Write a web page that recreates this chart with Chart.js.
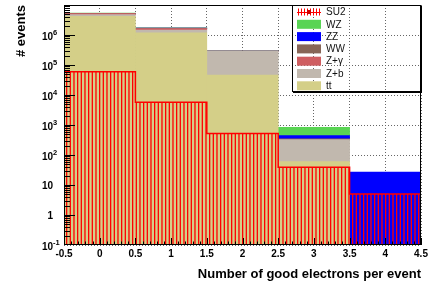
<!DOCTYPE html>
<html>
<head>
<meta charset="utf-8">
<script src="https://cdn.jsdelivr.net/npm/chart.js@4.4.0/dist/chart.umd.min.js"></script>
<style>
html, body { margin: 0; padding: 0; background: #fff; }
</style>
</head>
<body>
<canvas id="grafico" width="431" height="289"></canvas>
<script>
// bins (numero de eletrons bons por evento)
const categorias = [0, 1, 2, 3, 4];

// fundos empilhados (de baixo para cima)
const ttbar  = [4.2e6, 1.19e6, 4.6e4, 60, 0];
const zb     = [6.0e5, 2.8e5, 2.4e5, 265, 0];
const zgamma = [3.5e5, 1.8e5, 3.0e3, 0, 0];
const ww     = [1.0e5, 4.0e4, 2.0e3, 20, 0];
const zz     = [2.0e4, 1.0e4, 1.0e3, 95, 27];
const wz     = [1.0e5, 3.0e4, 2.0e3, 400, 0];

// sinal (desenhado por cima, hachurado)
const su2    = [6.0e4, 5.7e3, 5.2e2, 39, 5];

// rotulos do eixo y (base, expoente)
const ticksY   = [0.1, 1, 10, 100, 1e3, 1e4, 1e5, 1e6];
const rotulosY = [['10', '-1'], ['1', ''], ['10', ''], ['10', '2'], ['10', '3'], ['10', '4'], ['10', '5'], ['10', '6']];

const cores = {
    SU2: '#ff0000',
    WZ: '#59d454',
    ZZ: '#0000ff',
    WW: '#876657',
    'Z+γ': '#cf5e61',
    'Z+b': '#c1b8ae',
    tt: '#d4cf88'
};
const ordemLegenda = ['SU2', 'WZ', 'ZZ', 'WW', 'Z+γ', 'Z+b', 'tt'];

Chart.defaults.font.family = '"Liberation Sans", Arial, sans-serif';
Chart.defaults.color = '#000';

function hachuraVertical(cor) {
    const c = document.createElement('canvas');
    c.width = 11; c.height = 4;
    const g = c.getContext('2d');
    g.fillStyle = cor;
    [0, 3.67, 7.33].forEach(x => g.fillRect(x, 0, 1.3, 4));
    return g.createPattern(c, 'repeat');
}

// degraus do histograma do sinal (bordas dos bins)
const degrausSU2 = categorias.map((c, i) => ({ x: c - 0.5, y: su2[i] }));
degrausSU2.push({ x: categorias[categorias.length - 1] + 0.5, y: su2[su2.length - 1] });

function fundo(nome, dados) {
    return {
        label: nome,
        data: dados,
        backgroundColor: cores[nome],
        borderWidth: 0,
        barPercentage: 1,
        categoryPercentage: 1,
        grouped: false,
        stack: 'fundo',
        order: 1
    };
}

// eixos no estilo ROOT: moldura, ticks para dentro, rotulos com expoente
const eixosRoot = {
    id: 'eixosRoot',
    afterDatasetsDraw(chart) {
        const { ctx, chartArea: a, scales } = chart;
        const y = scales.y, x = scales.x2;
        ctx.save();
        ctx.strokeStyle = '#000';
        ctx.lineWidth = 1;
        ctx.beginPath();
        for (let e = -1; e < 7; e++) {
            for (let m = 1; m <= 9; m++) {
                const py = Math.round(y.getPixelForValue(m * Math.pow(10, e))) + 0.5;
                if (py < a.top || py > a.bottom) continue;
                const len = m === 1 ? 11 : 6;
                ctx.moveTo(a.left, py);
                ctx.lineTo(a.left + len, py);
            }
        }
        for (let k = 0; k <= 50; k++) {
            const px = Math.round(x.getPixelForValue(-0.5 + k * 0.1)) + 0.5;
            const len = k % 5 === 0 ? 7 : 3.5;
            ctx.moveTo(px, a.bottom);
            ctx.lineTo(px, a.bottom - len);
        }
        ctx.stroke();
        ctx.strokeRect(a.left + 0.5, a.top + 0.5, a.right - a.left - 1, a.bottom - a.top - 1);

        // rotulos do eixo y
        ctx.fillStyle = '#000';
        ticksY.forEach((v, i) => {
            const py = y.getPixelForValue(v);
            const [base, exp] = rotulosY[i];
            const xr = a.left - 11;
            ctx.textBaseline = 'middle';
            ctx.textAlign = 'right';
            ctx.font = 'bold 10px "Liberation Sans", Arial, sans-serif';
            ctx.fillText(base, xr, py + (exp ? 2.5 : 1.5));
            if (exp) {
                ctx.textAlign = 'left';
                ctx.font = 'bold 7.5px "Liberation Sans", Arial, sans-serif';
                ctx.fillText(exp, xr, py - 2);
            }
        });
        ctx.restore();
    },
    afterDraw(chart) {
        const { ctx, chartArea: a } = chart;
        const esq = a.right - 129, topo = a.top, alt = 87;
        ctx.save();
        ctx.strokeStyle = '#000';
        ctx.lineWidth = 1;
        ctx.strokeRect(esq + 0.5, topo + 0.5, a.right - esq - 1, alt - 1);
        ctx.fillStyle = '#000';
        ctx.fillRect(esq + 1, topo + alt - 1, a.right - esq, 2);
        ctx.fillRect(a.right - 1, topo + 1, 2, alt);

        ordemLegenda.forEach((nome, i) => {
            const yc = topo + 7 + i * 12.3;
            const sx = esq + 5, sw = 24;
            if (nome === 'SU2') {
                ctx.strokeStyle = cores.SU2;
                ctx.lineWidth = 1;
                ctx.beginPath();
                for (let xx = sx + 1; xx <= sx + sw; xx += 3) {
                    ctx.moveTo(Math.round(xx) + 0.5, yc - 3.5);
                    ctx.lineTo(Math.round(xx) + 0.5, yc + 3.5);
                }
                ctx.moveTo(sx, Math.round(yc) + 0.5);
                ctx.lineTo(sx + sw, Math.round(yc) + 0.5);
                ctx.stroke();
                ctx.fillStyle = '#d00000';
                ctx.fillRect(sx + sw / 2 - 2, yc - 2, 4, 4);
            } else {
                ctx.fillStyle = cores[nome];
                ctx.fillRect(sx, yc - 4.5, sw, 9);
            }
            ctx.fillStyle = '#111';
            ctx.font = '10px "Liberation Sans", Arial, sans-serif';
            ctx.textAlign = 'left';
            ctx.textBaseline = 'middle';
            ctx.fillText(nome, esq + 34, yc + 0.5);
        });
        ctx.restore();
    }
};

new Chart(document.getElementById('grafico').getContext('2d'), {
    type: 'bar',
    data: {
        labels: categorias,
        datasets: [
            {
                type: 'line',
                label: 'SU2',
                data: degrausSU2,
                xAxisID: 'x2',
                yAxisID: 'y',
                stepped: 'before',
                fill: 'start',
                backgroundColor: hachuraVertical(cores.SU2),
                borderColor: cores.SU2,
                borderWidth: 1.5,
                pointRadius: 0,
                order: 0
            },
            fundo('tt', ttbar),
            fundo('Z+b', zb),
            fundo('Z+γ', zgamma),
            fundo('WW', ww),
            fundo('ZZ', zz),
            fundo('WZ', wz)
        ]
    },
    options: {
        responsive: false,
        animation: false,
        devicePixelRatio: 1,
        layout: { padding: { left: 0, right: 10, top: 5, bottom: 0 } },
        plugins: { legend: { display: false }, tooltip: { enabled: false } },
        scales: {
            x: {
                type: 'category',
                display: false,
                stacked: true,
                offset: true,
                grid: { display: false }
            },
            x2: {
                type: 'linear',
                position: 'bottom',
                min: -0.5,
                max: 4.5,
                offset: false,
                ticks: {
                    stepSize: 0.5,
                    autoSkip: false,
                    maxRotation: 0,
                    padding: 3,
                    color: '#000',
                    font: { size: 10, weight: 'bold' },
                    callback: v => String(v)
                },
                grid: { color: '#666', drawTicks: false, offset: false },
                border: { display: false, dash: [1, 2] },
                title: {
                    display: true,
                    text: 'Number of good electrons per event',
                    align: 'end',
                    color: '#000',
                    font: { size: 13, weight: 'bold' },
                    padding: { top: 0, bottom: 7 }
                },
                afterFit: s => { s.height = 44; }
            },
            y: {
                type: 'logarithmic',
                position: 'left',
                min: 0.1,
                max: 1e7,
                stacked: true,
                afterBuildTicks: s => { s.ticks = ticksY.map(v => ({ value: v })); },
                ticks: { display: false },
                grid: { color: '#666', drawTicks: false },
                border: { display: false, dash: [1, 2] },
                title: {
                    display: true,
                    text: '# events',
                    align: 'end',
                    color: '#000',
                    font: { size: 13, weight: 'bold' },
                    padding: { top: 14, bottom: 0 }
                },
                afterFit: s => { s.width = 64; }
            }
        }
    },
    plugins: [eixosRoot]
});
</script>
</body>
</html>
